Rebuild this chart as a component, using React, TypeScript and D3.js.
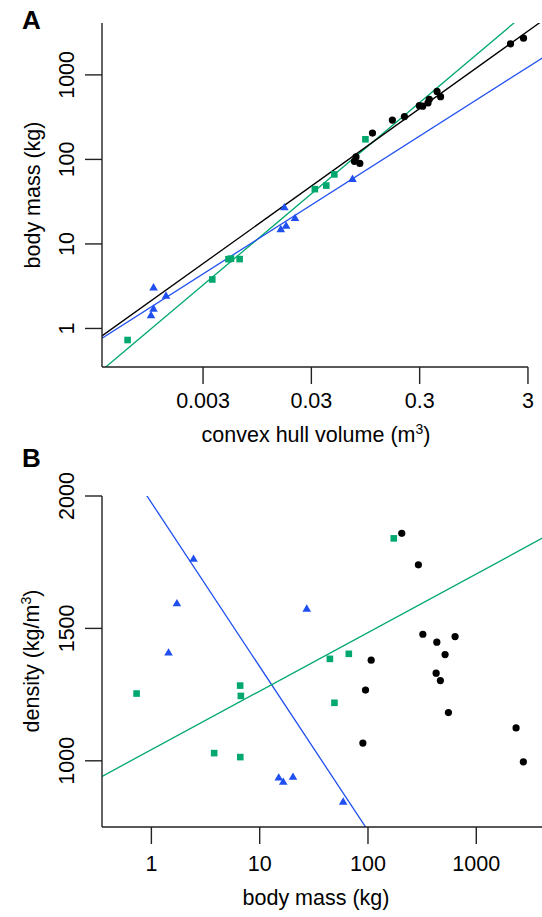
import * as d3 from 'd3';

const W = 542;
const H = 917;

// species groups
// black circles
const blackMass = [89.7, 94.9, 107, 205, 292, 321, 426, 432, 466, 515, 553, 637, 2330, 2720];
const blackVolume = [0.0841, 0.0749, 0.0775, 0.110, 0.168, 0.217, 0.320, 0.298, 0.358, 0.368, 0.468, 0.434, 2.07, 2.73];
const blackDensity = [1067, 1267, 1380, 1859, 1740, 1478, 1331, 1448, 1303, 1401, 1182, 1469, 1124, 996];

// green squares
const greenMass = [0.73, 3.8, 6.6, 6.62, 6.7, 44.5, 49, 66.5, 173];
const greenVolume = [0.000603, 0.00365, 0.00515, 0.00653, 0.00543, 0.0323, 0.0412, 0.0489, 0.0947];
const greenDensity = [1254, 1029, 1284, 1014, 1245, 1385, 1219, 1404, 1840];

// blue triangles (first one falls above the density range in B)
const blueMass = [3.06, 2.45, 1.72, 1.44, 27.2, 20.3, 16.5, 15.0, 59];
const blueVolume = [0.001047, 0.001365, 0.001047, 0.000992, 0.0169, 0.0212, 0.01754, 0.01567, 0.0719];
const blueDensity = [2920, 1763, 1595, 1409, 1575, 940, 921, 937, 846];

// fitted lines: [intercept, slope]
// A: log10(mass) ~ log10(volume)
const fitABlack = [3.081, 0.917];
const fitAGreen = [3.239, 1.08];
const fitABlue = [2.703, 0.8157];
// B: density ~ log10(mass)
const fitBGreen = [1042, 221.3];
const fitBBlue = [1975, -619.4];

const xTicksA = [0.003, 0.03, 0.3, 3];
const xTickLabelsA = ['0.003', '0.03', '0.3', '3'];
const yTicksA = [1, 10, 100, 1000];
const xTicksB = [1, 10, 100, 1000];
const yTicksB = [1000, 1500, 2000];

const GREEN = '#00a86e';
const BLUE = '#1f4ff0';
const AXIS = '#222';
const FONT = '"Liberation Sans", Arial, Helvetica, sans-serif';
const FS = 21.5;

const left = 102;
const right = 541.5;

const xA = d3.scaleLog().domain([0.00035, 4]).range([left, right]);
const yA = d3.scaleLog().domain([0.35, 4000]).range([367, 24]);
const xB = d3.scaleLog().domain([0.35, 4000]).range([left, right]);
const yB = d3.scaleLinear().domain([750, 2000]).range([827, 496]);

const tri = (x: number, y: number) => {
  const s = 4.3;
  return `M${x},${y - s}L${x + s},${y + s * 0.72}L${x - s},${y + s * 0.72}Z`;
};

function Points({ xs, ys, kind, color }: { xs: number[]; ys: number[]; kind: string; color: string }) {
  return (
    <g>
      {xs.map((x, i) => {
        const y = ys[i];
        if (kind === 'circle') return <circle key={i} cx={x} cy={y} r={3.6} fill={color} />;
        if (kind === 'square') return <rect key={i} x={x - 3.3} y={y - 3.3} width={6.6} height={6.6} fill={color} />;
        return <path key={i} d={tri(x, y)} fill={color} />;
      })}
    </g>
  );
}

export default function App() {
  const fitPathA = (c: number[]) => {
    const vs = [0.0003, 5];
    return d3.line<number>()
      .x(v => xA(v))
      .y(v => yA(Math.pow(10, c[0] + c[1] * Math.log10(v))))(vs) as string;
  };
  const fitPathB = (c: number[]) => {
    const ms = [0.3, 5000];
    return d3.line<number>()
      .x(m => xB(m))
      .y(m => yB(c[0] + c[1] * Math.log10(m)))(ms) as string;
  };

  const txt = { fontFamily: FONT, fontSize: FS, fill: '#000' } as const;

  return (
    <div style={{ position: 'absolute', left: 0, top: 0 }}>
      <svg width={W} height={H} style={{ display: 'block', background: '#fff' }}>
        <defs>
          <clipPath id="clipA"><rect x={left} y={23} width={W - left} height={367 - 23} /></clipPath>
          <clipPath id="clipB"><rect x={left} y={496} width={W - left} height={827 - 496} /></clipPath>
        </defs>

        {/* ---------- panel A ---------- */}
        <text x={22} y={28.5} style={{ fontFamily: FONT, fontSize: 26, fontWeight: 'bold' }}>A</text>

        <g clipPath="url(#clipA)" fill="none" strokeWidth={1.3}>
          <path d={fitPathA(fitAGreen)} stroke={GREEN} />
          <path d={fitPathA(fitABlue)} stroke={BLUE} />
          <path d={fitPathA(fitABlack)} stroke="#000" />
        </g>

        <g clipPath="url(#clipA)">
          <Points xs={greenVolume.map(v => xA(v))} ys={greenMass.map(m => yA(m))} kind="square" color={GREEN} />
          <Points xs={blueVolume.map(v => xA(v))} ys={blueMass.map(m => yA(m))} kind="tri" color={BLUE} />
          <Points xs={blackVolume.map(v => xA(v))} ys={blackMass.map(m => yA(m))} kind="circle" color="#000" />
        </g>

        <g stroke={AXIS} strokeWidth={1.4} fill="none">
          <line x1={left} x2={left} y1={23} y2={367} />
          <line x1={left} x2={xA(3)} y1={367} y2={367} />
          {xTicksA.map(t => <line key={t} x1={xA(t)} x2={xA(t)} y1={367} y2={384} />)}
          {yTicksA.map(t => <line key={t} x1={left - 17} x2={left} y1={yA(t)} y2={yA(t)} />)}
        </g>
        {xTicksA.map((t, i) => (
          <text key={t} x={xA(t)} y={408} textAnchor="middle" style={txt}>{xTickLabelsA[i]}</text>
        ))}
        {yTicksA.map(t => (
          <text key={t} x={74} y={yA(t)} textAnchor="middle" transform={`rotate(-90, 74, ${yA(t)})`} style={txt}>{t}</text>
        ))}
        <text x={316} y={442} textAnchor="middle" style={txt}>
          convex hull volume (m<tspan dy={-8} fontSize={14}>3</tspan><tspan dy={8}>)</tspan>
        </text>
        <text x={40} y={195} textAnchor="middle" transform="rotate(-90, 40, 195)" style={txt}>body mass (kg)</text>

        {/* ---------- panel B ---------- */}
        <text x={22} y={467} style={{ fontFamily: FONT, fontSize: 26, fontWeight: 'bold' }}>B</text>

        <g clipPath="url(#clipB)" fill="none" strokeWidth={1.3}>
          <path d={fitPathB(fitBBlue)} stroke={BLUE} />
          <path d={fitPathB(fitBGreen)} stroke={GREEN} />
        </g>

        <g clipPath="url(#clipB)">
          <Points xs={greenMass.map(m => xB(m))} ys={greenDensity.map(d => yB(d))} kind="square" color={GREEN} />
          <Points xs={blueMass.map(m => xB(m))} ys={blueDensity.map(d => yB(d))} kind="tri" color={BLUE} />
          <Points xs={blackMass.map(m => xB(m))} ys={blackDensity.map(d => yB(d))} kind="circle" color="#000" />
        </g>

        <g stroke={AXIS} strokeWidth={1.4} fill="none">
          <line x1={left} x2={left} y1={496} y2={827} />
          <line x1={left} x2={W} y1={827} y2={827} />
          {xTicksB.map(t => <line key={t} x1={xB(t)} x2={xB(t)} y1={827} y2={844} />)}
          {yTicksB.map(t => <line key={t} x1={left - 17} x2={left} y1={yB(t)} y2={yB(t)} />)}
        </g>
        {xTicksB.map(t => (
          <text key={t} x={xB(t)} y={871} textAnchor="middle" style={txt}>{t}</text>
        ))}
        {yTicksB.map(t => (
          <text key={t} x={74} y={yB(t)} textAnchor="middle" transform={`rotate(-90, 74, ${yB(t)})`} style={txt}>{t}</text>
        ))}
        <text x={316} y={905} textAnchor="middle" style={txt}>body mass (kg)</text>
        <text x={39} y={661} textAnchor="middle" transform="rotate(-90, 39, 661)" style={txt}>
          density (kg/m<tspan dy={-8} fontSize={14}>3</tspan><tspan dy={8}>)</tspan>
        </text>
      </svg>
    </div>
  );
}
